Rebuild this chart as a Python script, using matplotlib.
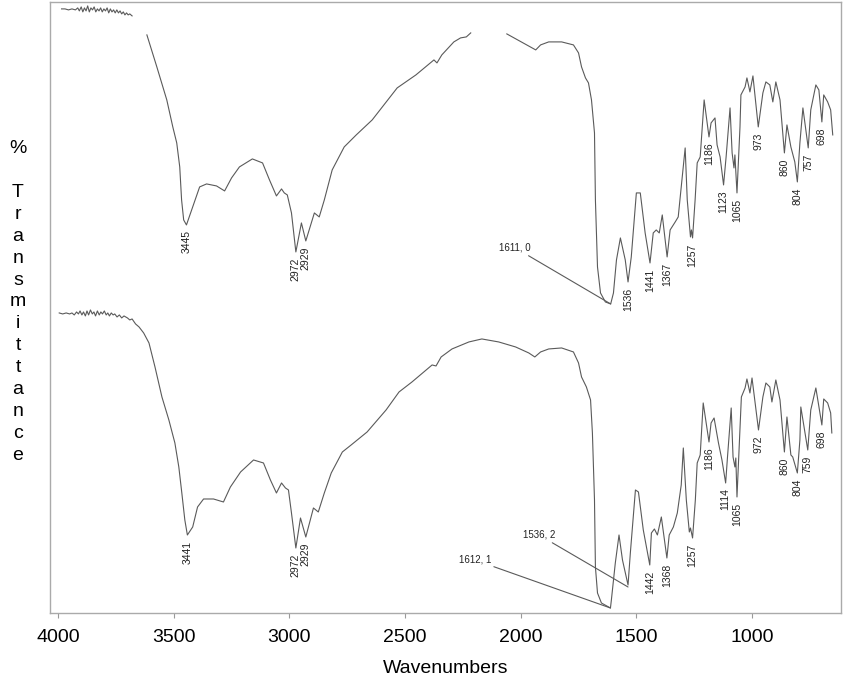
import numpy as np
import matplotlib
matplotlib.use("Agg")
import matplotlib.pyplot as plt

plt.rcParams['font.family'] = ['Liberation Sans', 'DejaVu Sans']

# upper spectrum, three pieces (gaps as in the scan)
top_a_wn = [3985, 3970, 3955, 3940, 3925, 3915, 3908, 3900, 3893, 3886, 3879, 3872,
            3865, 3858, 3851, 3844, 3837, 3830, 3823, 3816, 3809, 3802, 3795, 3788,
            3781, 3774, 3767, 3760, 3753, 3746, 3739, 3732, 3725, 3718, 3711, 3704,
            3697, 3690, 3680]
top_a_t = [604, 604, 603, 604, 603, 605, 602, 606, 601, 605, 602, 607,
           601, 605, 603, 606, 601, 604, 602, 605, 601, 604, 602, 605,
           600, 604, 601, 603, 600, 603, 600, 602, 599, 601, 598, 600,
           598, 599, 597]

top_b_wn = [3616, 3573, 3530, 3504, 3487, 3474, 3466, 3457, 3445, 3418, 3388, 3358,
            3315, 3280, 3250, 3216, 3160, 3116, 3086, 3056, 3034, 3022, 3009, 2991,
            2972, 2948, 2929, 2892, 2871, 2849, 2815, 2763, 2711, 2642, 2534, 2453,
            2375, 2362, 2341, 2289, 2260, 2235, 2216]
top_b_t = [578, 546, 513, 486, 470, 446, 413, 393, 388, 406, 426, 429,
           427, 422, 435, 446, 454, 450, 433, 417, 424, 420, 418, 400,
           361, 390, 372, 400, 396, 413, 443, 466, 478, 493, 525, 538,
           553, 550, 558, 571, 575, 576, 580]

top_c_wn = [2060, 1935, 1914, 1879, 1823, 1772, 1750, 1737, 1720, 1707, 1694, 1681,
            1677, 1668, 1655, 1634, 1611, 1599, 1586, 1569, 1548, 1536, 1522, 1500,
            1483, 1462, 1441, 1427, 1414, 1401, 1388, 1367, 1354, 1332, 1319, 1306,
            1289, 1280, 1266, 1262, 1257, 1246, 1237, 1224, 1207, 1186, 1177, 1160,
            1151, 1138, 1123, 1112, 1095, 1086, 1078, 1074, 1065, 1052, 1048, 1030,
            1022, 1009, 996, 973, 953, 940, 923, 910, 897, 879, 860, 849,
            832, 815, 804, 793, 780, 757, 746, 724, 711, 698, 690, 673,
            660, 651]
top_c_t = [579, 563, 568, 571, 571, 568, 560, 546, 535, 530, 513, 480,
           413, 346, 320, 311, 309, 320, 353, 375, 353, 331, 356, 420,
           420, 380, 350, 380, 383, 380, 398, 356, 383, 391, 396, 426,
           465, 413, 376, 383, 375, 413, 450, 456, 513, 476, 490, 495,
           468, 456, 428, 456, 505, 460, 445, 458, 420, 486, 518, 526,
           535, 521, 537, 486, 520, 531, 528, 511, 531, 513, 460, 488,
           466, 451, 431, 470, 505, 465, 503, 528, 523, 491, 518, 511,
           503, 478]

# lower spectrum
bot_wn = [3995, 3980, 3965, 3950, 3940, 3930, 3920, 3912, 3905, 3897, 3890, 3882,
          3875, 3868, 3860, 3852, 3845, 3838, 3830, 3822, 3815, 3808, 3800, 3792,
          3785, 3778, 3770, 3762, 3755, 3745, 3735, 3725, 3715, 3700, 3690, 3680,
          3665, 3650, 3630, 3607, 3581, 3551, 3521, 3495, 3478, 3465, 3452, 3441,
          3418, 3397, 3371, 3328, 3285, 3255, 3211, 3155, 3112, 3082, 3056, 3034,
          3017, 3004, 2991, 2972, 2952, 2929, 2896, 2875, 2849, 2819, 2771, 2733,
          2664, 2582, 2526, 2470, 2383, 2366, 2344, 2297, 2224, 2168, 2095, 2022,
          1965, 1939, 1914, 1879, 1823, 1772, 1750, 1737, 1716, 1698, 1690, 1681,
          1677, 1668, 1651, 1612, 1608, 1591, 1575, 1560, 1536, 1526, 1504, 1491,
          1470, 1442, 1435, 1422, 1409, 1392, 1368, 1358, 1340, 1323, 1306, 1297,
          1284, 1271, 1266, 1257, 1245, 1237, 1224, 1211, 1186, 1177, 1164, 1145,
          1130, 1114, 1106, 1090, 1082, 1074, 1070, 1065, 1052, 1046, 1030, 1022,
          1009, 1000, 972, 953, 940, 923, 914, 897, 879, 860, 849, 832,
          824, 804, 793, 789, 759, 746, 724, 698, 690, 673, 660, 655]
bot_t = [300, 299, 300, 299, 300, 298, 301, 299, 302, 298, 301, 297,
         302, 298, 303, 299, 301, 297, 302, 298, 301, 299, 302, 298,
         300, 297, 300, 298, 299, 296, 298, 295, 297, 295, 293, 294,
         289, 286, 280, 270, 246, 216, 193, 170, 146, 120, 93, 78,
         86, 106, 114, 114, 111, 126, 141, 153, 150, 133, 120, 130,
         125, 123, 100, 65, 95, 76, 105, 101, 120, 140, 161, 168,
         181, 203, 221, 231, 248, 247, 256, 264, 271, 274, 271, 266,
         260, 256, 261, 264, 265, 261, 250, 236, 226, 213, 180, 113,
         46, 20, 10, 5, 13, 50, 78, 53, 28, 60, 123, 121,
         83, 48, 80, 84, 78, 96, 55, 78, 86, 100, 128, 165,
         113, 81, 85, 75, 113, 150, 158, 210, 171, 190, 195, 170,
         153, 130, 156, 205, 156, 146, 155, 116, 183, 216, 225, 234,
         220, 235, 183, 216, 230, 226, 211, 233, 213, 161, 196, 158,
         156, 140, 173, 206, 163, 203, 225, 188, 214, 210, 200, 180]

top_peaks = [3445, 2972, 2929, 1536, 1441, 1367, 1257, 1186, 1123, 1065,
             973, 860, 804, 757, 698]
bot_peaks = [3441, 2972, 2929, 1442, 1368, 1257, 1186, 1114, 1065,
             972, 860, 804, 759, 698]

ticks = [4000, 3500, 3000, 2500, 2000, 1500, 1000]

fig = plt.figure(figsize=(8.47, 6.79), dpi=100)
ax = fig.add_axes([0.059, 0.0972, 0.934, 0.9])

col = '#5a5a5a'
for wn, t in [(top_a_wn, top_a_t), (top_b_wn, top_b_t), (top_c_wn, top_c_t), (bot_wn, bot_t)]:
    ax.plot(wn, t, color=col, lw=0.8)

top_wn = np.array(top_c_wn + top_b_wn)
top_t = np.array(top_c_t + top_b_t)


def label_peaks(peaks, wn, t):
    wn = np.asarray(wn)
    t = np.asarray(t)
    order = np.argsort(wn)
    for p in peaks:
        y = np.interp(p, wn[order], t[order])
        ax.annotate(str(p), (p, y), xytext=(0, -4), textcoords='offset points',
                    rotation=90, ha='center', va='top', fontsize=7.5, color='#222222')


label_peaks(top_peaks, top_wn, top_t)
label_peaks(bot_peaks, bot_wn, bot_t)

arrow = dict(arrowstyle='-', color=col, lw=0.8, shrinkA=0, shrinkB=0)
ax.annotate('1611, 0', (1611, 309), xytext=(1955, 365), ha='right', va='center',
            fontsize=7, color='#222222', arrowprops=arrow)
ax.annotate('1536, 2', (1536, 26), xytext=(1851, 78), ha='right', va='center',
            fontsize=7, color='#222222', arrowprops=arrow)
ax.annotate('1612, 1', (1612, 5), xytext=(2128, 53), ha='right', va='center',
            fontsize=7, color='#222222', arrowprops=arrow)

ax.set_xlim(4035, 615)
ax.set_ylim(0, 611)
ax.set_yticks([])
ax.set_xticks(ticks)
ax.set_xticklabels([str(v) for v in ticks], fontsize=14)
ax.tick_params(axis='x', direction='out', length=3.6, color='#999999', pad=8)
for s in ax.spines.values():
    s.set_color('#aaaaaa')
    s.set_linewidth(1.0)

ax.set_xlabel('Wavenumbers', fontsize=14, labelpad=10)
fig.text(18 / 847, 1 - 302 / 679, '%\n\n' + '\n'.join('Transmittance'),
         ha='center', va='center', fontsize=14, linespacing=1.38)

fig.savefig('out.png', dpi=100)
